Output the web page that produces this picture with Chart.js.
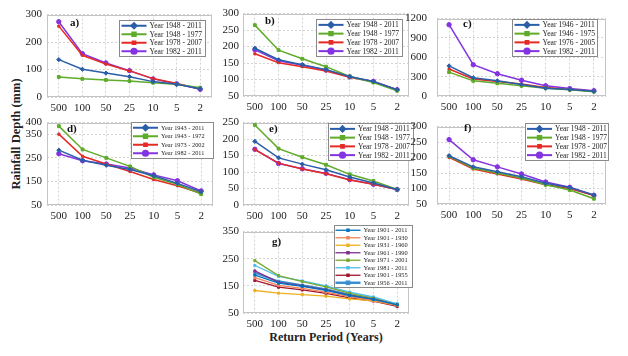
<!DOCTYPE html>
<html><head><meta charset="utf-8">
<script src="https://cdn.jsdelivr.net/npm/chart.js@4.4.1/dist/chart.umd.min.js"></script>
<style>
html,body{margin:0;padding:0;background:#fff;}
#wrap{position:relative;width:628px;height:356px;overflow:hidden;background:#fff;font-family:"Liberation Serif","Times New Roman",serif;}
canvas{position:absolute;}
.ttl{position:absolute;font-weight:bold;font-size:12px;color:#222;white-space:nowrap;font-family:"Liberation Serif","Times New Roman",serif;}
#ytitle{left:16px;top:134px;transform:translate(-50%,-50%) rotate(-90deg);font-size:12.5px;}
#xtitle{left:326px;top:337px;transform:translate(-50%,-50%);}
</style></head><body>
<div id="wrap">
  <div class="ttl" id="ytitle">Rainfall Depth (mm)</div>
  <div class="ttl" id="xtitle">Return Period (Years)</div>
</div>
<script>
// ---------- data ----------
const returnPeriods = ['500','100','50','25','10','5','2'];

const yTicksA = [0,100,200,300];
const yTicksB = [50,100,150,200,250,300];
const yTicksC = [0,300,600,900,1200];
const yTicksD = [50,150,250,350,400];
const yTicksE = [0,50,100,150,200,250];
const yTicksF = [50,100,150,200,250,300];
const yTicksG = [50,150,250,350];

const labelsA = ['Year 1948 - 2011','Year 1948 - 1977','Year 1978 - 2007','Year 1982 - 2011'];
const a1 = [136,101,87,74,56,46,30];
const a2 = [73,66,62,58,52,46,34];
const a3 = [258,152,120,95,67,49,29];
const a4 = [274,158,124,96,66,48,28];

const labelsB = ['Year 1948 - 2011','Year 1948 - 1977','Year 1978 - 2007','Year 1982 - 2011'];
const b1 = [195,160,145,130,109,94,69];
const b2 = [265,189,163,139,109,91,66];
const b3 = [178,151,139,126,107,93,69];
const b4 = [190,157,143,129,108,94,69];

const labelsC = ['Year 1946 - 2011','Year 1946 - 1975','Year 1976 - 2005','Year 1982 - 2011'];
const c1 = [466,283,235,178,122,100,72];
const c2 = [370,235,197,158,120,96,67];
const c3 = [418,264,226,185,130,100,72];
const c4 = [1105,485,346,245,158,115,82];

const labelsD = ['Year 1943 - 2011','Year 1943 - 1972','Year 1973 - 2002','Year 1982 - 2011'];
const d1 = [283,240,219,201,174,142,106];
const d2 = [385,286,250,214,168,138,96];
const d3 = [351,257,224,192,158,132,100];
const d4 = [268,238,224,207,178,153,110];

const labelsE = ['Year 1948 - 2011','Year 1948 - 1977','Year 1978 - 2007','Year 1982 - 2011'];
const e1 = [193,143,124,107,85,67,47];
const e2 = [243,171,145,122,93,73,47];
const e3 = [168,127,109,95,76,63,47];
const e4 = [169,126,110,96,77,63,47];

const labelsF = ['Year 1948 - 2011','Year 1948 - 1977','Year 1978 - 2007','Year 1982 - 2011'];
const f1 = [206,170,154,138,117,103,79];
const f2 = [204,166,150,134,112,95,67];
const f3 = [201,163,147,131,112,100,77];
const f4 = [258,193,170,147,121,104,78];

const labelsG = ['Year 1901 - 2011','Year 1901 - 1930','Year 1931 - 1960','Year 1961 - 1990','Year 1971 - 2001','Year 1981 - 2011','Year 1901 - 1955','Year 1956 - 2011'];
const g1 = [190,160,148,133,114,100,80];
const g2 = [180,152,141,127,110,97,79];
const g3 = [133,123,118,112,102,95,78];
const g4 = [205,163,150,135,115,101,79];
const g5 = [243,188,166,146,122,104,80];
const g6 = [225,185,168,150,127,109,84];
const g7 = [170,145,135,122,106,94,74];
const g8 = [198,167,153,138,118,104,82];

// ---------- styles ----------
const fourStyles = [
  {color:'#2a5ea8', ps:'rectRot', r:2.1, lr:2.6},
  {color:'#5fab2a', ps:'rect', r:2.0, lr:2.4},
  {color:'#e42b25', ps:'rect', r:1.5, lr:1.9},
  {color:'#8434e0', ps:'circle', r:2.2, lr:2.6}
];
const gColors = ['#0072bd','#f0845a','#edb120','#7e2f8e','#77ac30','#4dbeee','#a2142f','#3b8ed0'];

function mk4(labels, series){
  return series.map((d,i)=>({
    label: labels[i], data: d,
    borderColor: fourStyles[i].color, backgroundColor: fourStyles[i].color,
    pointBackgroundColor: fourStyles[i].color, pointBorderColor: fourStyles[i].color,
    pointStyle: fourStyles[i].ps, pointRadius: fourStyles[i].r, pointBorderWidth: 1,
    borderWidth: 1.5, tension: 0, legendLW: 2, legendR: fourStyles[i].lr
  }));
}
function mkG(labels, series){
  return series.map((d,i)=>({
    label: labels[i], data: d,
    borderColor: gColors[i], backgroundColor: gColors[i],
    pointBackgroundColor: gColors[i], pointBorderColor: gColors[i],
    pointStyle: 'rect', pointRadius: 1.5, pointBorderWidth: 1,
    borderWidth: i===7 ? 1.8 : 1.3, tension: 0, legendLW: i===7 ? 2.5 : 1.3, legendR: 1.5
  }));
}

const panels = [
  {plot:[47,13,212,97], min:0, max:300, ticks:yTicksA, ypad:5, ds:mk4(labelsA,[a1,a2,a3,a4]),
   legend:{x:119,y:20,w:86,h:36,font:7.6,lx:2.5,lw:25,gap:3}, tag:'a)', tx:70, ty:23.5},
  {plot:[243,13,409,96], min:50, max:300, ticks:yTicksB, ypad:4, ds:mk4(labelsB,[b1,b2,b3,b4]),
   legend:{x:316,y:19,w:86,h:37,font:7.6,lx:2.5,lw:25,gap:3}, tag:'b)', tx:265, ty:21},
  {plot:[437,12,606,96], min:0, max:1200, ticks:yTicksC, ypad:10, ds:mk4(labelsC,[c1,c2,c3,c4]),
   legend:{x:512,y:19,w:85,h:37,font:7.6,lx:2.5,lw:25,gap:3}, tag:'c)', tx:463, ty:24},
  {plot:[47,121,213,205], min:50, max:400, ticks:yTicksD, ypad:5, ds:mk4(labelsD,[d1,d2,d3,d4]),
   legend:{x:131,y:122,w:82,h:36,font:6.3,lx:2,lw:25,gap:3}, tag:'d)', tx:67, ty:129},
  {plot:[243,122,409,205], min:0, max:250, ticks:yTicksE, ypad:4, ds:mk4(labelsE,[e1,e2,e3,e4]),
   legend:{x:328,y:123,w:85,h:37,font:7.5,lx:2,lw:25,gap:3}, tag:'e)', tx:269, ty:129},
  {plot:[437,120,606,204], min:50, max:300, ticks:yTicksF, ypad:10, ds:mk4(labelsF,[f1,f2,f3,f4]),
   legend:{x:525,y:123,w:83,h:37,font:7.5,lx:2,lw:25,gap:3}, tag:'f)', tx:464, ty:128},
  {plot:[243,231,409,313], min:50, max:350, ticks:yTicksG, ypad:4, ds:mkG(labelsG,[g1,g2,g3,g4,g5,g6,g7,g8]),
   legend:{x:334,y:225,w:78,h:62,font:6.4,lx:1.5,lw:25,gap:3}, tag:'g)', tx:272, ty:242}
];

const deco = {
  id:'deco',
  beforeDraw(chart){
    const a = chart.chartArea, ctx = chart.ctx;
    ctx.save(); ctx.fillStyle = '#fff';
    ctx.fillRect(a.left, a.top, a.right-a.left, a.bottom-a.top);
    ctx.restore();
  },
  beforeDatasetsDraw(chart){
    const a = chart.chartArea, ctx = chart.ctx;
    ctx.save(); ctx.strokeStyle = '#c4c4c4'; ctx.lineWidth = 1;
    ctx.strokeRect(Math.round(a.left)+0.5, Math.round(a.top)+0.5, Math.round(a.right-a.left)-1, Math.round(a.bottom-a.top)-1);
    ctx.restore();
  },
  afterDraw(chart, args, opts){
    const ctx = chart.ctx, L = opts.legend;
    if (!L) return;
    ctx.save();
    const x = L.x - opts.ox, y = L.y - opts.oy;
    ctx.fillStyle = '#fff'; ctx.fillRect(x, y, L.w, L.h);
    ctx.strokeStyle = '#8a8a8a'; ctx.lineWidth = 1;
    ctx.strokeRect(Math.round(x)+0.5, Math.round(y)+0.5, L.w, L.h);
    const n = chart.data.datasets.length;
    const rowH = (L.h - 2) / n;
    chart.data.datasets.forEach((ds,i)=>{
      const cy = y + 1.5 + rowH*(i+0.5);
      const x0 = x + L.lx, x1 = x0 + L.lw;
      ctx.strokeStyle = ds.borderColor; ctx.lineWidth = ds.legendLW;
      ctx.beginPath(); ctx.moveTo(x0, cy); ctx.lineTo(x1, cy); ctx.stroke();
      ctx.fillStyle = ds.pointBackgroundColor; ctx.strokeStyle = ds.pointBorderColor;
      Chart.helpers.drawPoint(ctx, {pointStyle: ds.pointStyle, radius: ds.legendR, rotation: 0, borderWidth: 1}, (x0+x1)/2, cy);
      ctx.fillStyle = '#222'; ctx.font = L.font + 'px "Liberation Serif", serif';
      ctx.textBaseline = 'middle'; ctx.textAlign = 'left';
      ctx.fillText(ds.label, x1 + L.gap, cy + 0.5);
    });
    ctx.fillStyle = '#111'; ctx.font = 'bold 11px "Liberation Serif", serif';
    ctx.textBaseline = 'middle'; ctx.textAlign = 'left';
    ctx.fillText(opts.tag, opts.tx - opts.ox, opts.ty - opts.oy);
    ctx.restore();
  }
};

const wrap = document.getElementById('wrap');
const YW = 45, XH = 24, PT = 10, PR = 8;
const tickFont = {family:'"Liberation Serif", "Times New Roman", serif', size:11};

panels.forEach(p=>{
  const [l,t,r,b] = p.plot;
  const ox = l - YW, oy = t - PT, cw = r - l + YW + PR, ch = b - t + PT + XH;
  const cv = document.createElement('canvas');
  cv.width = cw; cv.height = ch;
  cv.style.left = ox + 'px'; cv.style.top = oy + 'px';
  cv.style.width = cw + 'px'; cv.style.height = ch + 'px';
  wrap.appendChild(cv);
  new Chart(cv.getContext('2d'), {
    type:'line',
    data:{labels: returnPeriods, datasets: p.ds},
    options:{
      responsive:false, animation:false, devicePixelRatio:1,
      layout:{padding:{top:PT, right:PR, left:0, bottom:0}},
      elements:{point:{hoverRadius:0}},
      plugins:{
        legend:{display:false}, tooltip:{enabled:false},
        deco:{legend:p.legend, ox:ox, oy:oy, tag:p.tag, tx:p.tx, ty:p.ty}
      },
      scales:{
        x:{
          type:'category', offset:true,
          grid:{color:'#d4d4d4', drawTicks:false, lineWidth:1},
          border:{display:false, dash:[2,2]},
          ticks:{font:tickFont, color:'#222', padding:5, maxRotation:0, autoSkip:false},
          afterFit(s){ s.height = XH; }
        },
        y:{
          min:p.min, max:p.max,
          grid:{color:'#d4d4d4', drawTicks:false, lineWidth:1},
          border:{display:false, dash:[2,2]},
          ticks:{font:tickFont, color:'#222', padding:p.ypad, autoSkip:false, callback:v=>String(v)},
          afterBuildTicks(s){ s.ticks = p.ticks.map(v=>({value:v})); },
          afterFit(s){ s.width = YW; }
        }
      }
    },
    plugins:[deco]
  });
});
</script>
</body></html>
